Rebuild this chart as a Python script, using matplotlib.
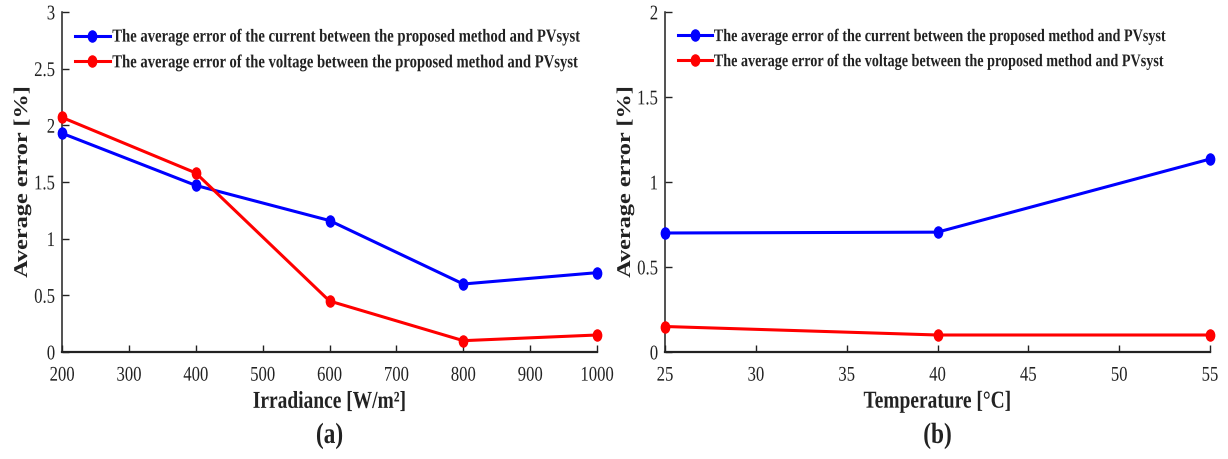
import matplotlib
matplotlib.use('Agg')
import matplotlib.pyplot as plt
from matplotlib.patheffects import AbstractPathEffect
from matplotlib.transforms import Affine2D
from matplotlib.path import Path

# erreurs moyennes (%) entre la methode proposee et PVsyst
irradiance = [200, 400, 600, 800, 1000]
err_courant_irr = [1.93, 1.47, 1.16, 0.60, 0.70]
err_tension_irr = [2.07, 1.58, 0.45, 0.10, 0.15]

temperature = [25, 40, 55]
err_courant_temp = [0.70, 0.705, 1.135]
err_tension_temp = [0.15, 0.10, 0.10]

leg_courant = 'The average error of the current between the proposed method and PVsyst'
leg_tension = 'The average error of the voltage between the proposed method and PVsyst'

SX = 0.8  # rapport largeur / hauteur de la police


class Etire(AbstractPathEffect):
    # etire le texte verticalement autour de son centre (police d'aspect serre)
    def __init__(self, sy=1 / SX):
        super().__init__()
        self.sy = sy

    def draw_path(self, renderer, gc, tpath, affine, rgbFace=None):
        ext = tpath.get_extents(affine)
        y0 = 0.5 * (ext.y0 + ext.y1)
        aff = affine + Affine2D().translate(0, -y0).scale(1, self.sy).translate(0, y0)
        renderer.draw_path(gc, tpath, aff, rgbFace)


# marqueur ovale (rond ecrase en largeur)
cercle = Path.unit_circle()
ovale = Path(cercle.vertices * [0.75, 1.0], cercle.codes)

plt.rcParams['font.family'] = ['Liberation Serif', 'DejaVu Serif']
GRIS = '#222222'

fig = plt.figure(figsize=(12.28, 4.59), dpi=100)
ax1 = fig.add_axes([62 / 1228, 1 - 352 / 459, 535 / 1228, 340 / 459])
ax2 = fig.add_axes([665 / 1228, 1 - 352 / 459, 545 / 1228, 340 / 459])


def tracer(ax, x, y1, y2, xlim, ylim, xticks, yticks, xlabel, lettre, taille_leg):
    ax.plot(x, y1, color='blue', lw=2.2, marker=ovale, ms=8, label=leg_courant, clip_on=False, zorder=3)
    ax.plot(x, y2, color='red', lw=2.2, marker=ovale, ms=8, label=leg_tension, clip_on=False, zorder=3)
    ax.set_xlim(*xlim)
    ax.set_ylim(*ylim)
    ax.set_xticks(xticks)
    ax.set_yticks(yticks)
    ax.set_yticklabels([f'{v:g}' for v in yticks])
    ax.spines['top'].set_visible(False)
    ax.spines['right'].set_visible(False)
    ax.spines['left'].set_linewidth(1.1)
    ax.spines['bottom'].set_linewidth(1.6)
    for s in ('left', 'bottom'):
        ax.spines[s].set_color(GRIS)
    ax.tick_params(direction='in', length=5, width=1.0, labelsize=15 * SX, color=GRIS,
                   labelcolor=GRIS)
    ax.tick_params(axis='x', pad=11)
    ax.tick_params(axis='y', pad=5)
    for t in ax.get_xticklabels() + ax.get_yticklabels():
        t.set_path_effects([Etire()])

    w = ax.get_position().width * 1228
    ax.set_xlabel(xlabel, fontsize=17.5 * SX, fontweight='bold', color=GRIS,
                  path_effects=[Etire()], va='center')
    ax.xaxis.set_label_coords(0.5, -0.147)
    ax.set_ylabel('Average error [%]', fontsize=17.5 * SX, fontweight='bold', color=GRIS,
                  path_effects=[Etire()])
    ax.yaxis.set_label_coords(-31 / w, 0.5)

    leg = ax.legend(loc='upper left', frameon=False, prop={'weight': 'bold', 'size': taille_leg},
                    handlelength=2.4, handletextpad=0.15, borderaxespad=0.0,
                    labelspacing=0.85, bbox_to_anchor=(7 / w, 0.963))
    for t in leg.get_texts():
        t.set_path_effects([Etire()])
        t.set_color(GRIS)
    ax.text(0.5, -0.247, lettre, transform=ax.transAxes, ha='center', va='center',
            fontsize=21 * SX, fontweight='bold', color=GRIS, path_effects=[Etire()])


tracer(ax1, irradiance, err_courant_irr, err_tension_irr, (200, 1000), (0, 3),
       range(200, 1001, 100), [0, 0.5, 1, 1.5, 2, 2.5, 3], 'Irradiance [W/m²]', '(a)', 10.56)
tracer(ax2, temperature, err_courant_temp, err_tension_temp, (25, 55), (0, 2),
       range(25, 56, 5), [0, 0.5, 1, 1.5, 2], 'Temperature [°C]', '(b)', 10.2)

fig.savefig('out.png', dpi=100)
